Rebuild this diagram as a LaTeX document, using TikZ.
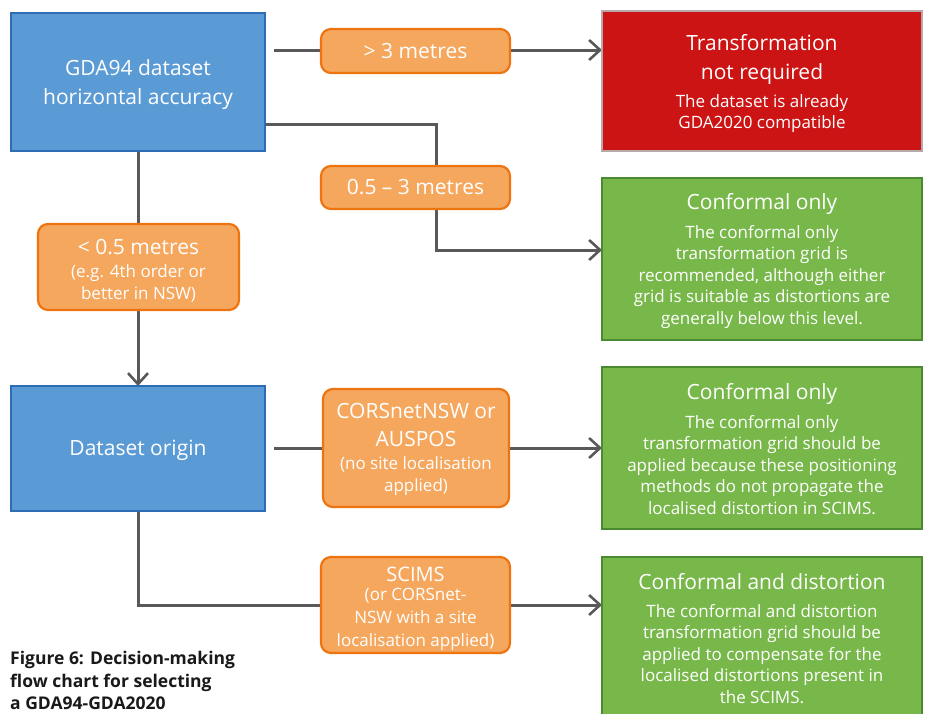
\documentclass[tikz,border=0pt]{standalone}
\usepackage{fontspec}
\setmainfont{Open Sans}
\usetikzlibrary{arrows.meta,backgrounds}
\definecolor{bluefill}{HTML}{5B9BD5}
\definecolor{blueline}{HTML}{2E6DB4}
\definecolor{orfill}{HTML}{F6A75E}
\definecolor{orline}{HTML}{EE7410}
\definecolor{redfill}{HTML}{CC1414}
\definecolor{redline}{HTML}{B8A8A8}
\definecolor{grfill}{HTML}{78B84A}
\definecolor{grline}{HTML}{4A8A30}
\definecolor{conn}{HTML}{595959}
\tikzset{
  box/.style={inner sep=0pt, outer sep=0pt, align=center, text=white, line width=2.2pt},
  bluebox/.style={box, draw=blueline, fill=bluefill, minimum width=254pt, font=\fontsize{21}{29}\selectfont},
  orbox/.style={box, draw=orline, fill=orfill, rounded corners=10pt, font=\fontsize{21}{26}\selectfont},
  redbox/.style={box, draw=redline, fill=redfill, minimum width=320pt, minimum height=140pt},
  grbox/.style={box, draw=grline, fill=grfill, minimum width=320pt, minimum height=162pt},
  big/.style={font=\fontsize{21}{29}\selectfont},
  small/.style={font=\fontsize{17}{21.5}\selectfont},
  conn/.style={draw=conn, line width=3pt},
  arr/.style={conn, -{Straight Barb[length=11pt,width=20pt,line width=2.6pt]}},
}
\newcommand{\sm}{\fontsize{17}{21}\selectfont}
\begin{document}
\begin{tikzpicture}[x=1pt,y=-1pt]
\useasboundingbox (0,0) rectangle (928,713);
% blue boxes
\node[bluebox, minimum height=138pt] (b1) at (138,82) {\rule{0pt}{22pt}GDA94 dataset\\horizontal accuracy};
\node[bluebox, minimum height=125pt] (b2) at (138,448.5) {\rule{0pt}{19pt}Dataset origin};
% result boxes
\node[redbox] (r) at (762,81) {};
\node[grbox] (g1) at (762,259) {};
\node[grbox] (g2) at (762,448) {};
\node[grbox] (g3) at (762,638) {};
\node[box, big, anchor=north] (rt) at (762,34) {Transformation\\not required};
\node[box, small, anchor=north] (rs) at ([yshift=-10pt]rt.south) {The dataset is already\\GDA2020 compatible};
\node[box, big, anchor=north] (g1t) at (762,193) {Conformal only};
\node[box, small, anchor=north] (g1s) at ([yshift=-11pt]g1t.south) {The conformal only\\transformation grid is\\recommended, although either\\grid is suitable as distortions are\\generally below this level.};
\node[box, big, anchor=north] (g2t) at (762,383) {Conformal only};
\node[box, small, anchor=north] (g2s) at ([yshift=-11pt]g2t.south) {The conformal only\\transformation grid should be\\applied because these positioning\\methods do not propagate the\\localised distortion in SCIMS.};
\node[box, big, anchor=north] (g3t) at (762,573) {Conformal and distortion};
\node[box, small, anchor=north] (g3s) at ([yshift=-15pt]g3t.south) {The conformal and distortion\\transformation grid should be\\applied to compensate for the\\localised distortions present in\\the SCIMS.};
% orange boxes
\node[orbox, minimum width=189pt, minimum height=44pt] (o1) at (415.5,51) {> 3 metres};
\node[orbox, minimum width=189pt, minimum height=43pt] (o2) at (415.5,187.5) {0.5 – 3 metres};
\node[orbox, minimum width=201pt, minimum height=86pt] (o3) at (138.5,267) {\rule{0pt}{22pt}< 0.5 metres\\[-3pt]{\sm (e.g. 4th order or}\\[-4pt]{\sm better in NSW)}};
\node[orbox, minimum width=186pt, minimum height=118pt] (o4) at (416,448) {\rule{0pt}{19pt}CORSnetNSW or\\[2pt]AUSPOS\\[-3pt]{\sm (no site localisation}\\[-4pt]{\sm applied)}};
\node[orbox, minimum width=189pt, minimum height=96pt, font=\fontsize{20}{24}\selectfont] (o5) at (415.5,605) {\rule{0pt}{23pt}SCIMS\\[-5pt]{\sm (or CORSnet-}\\[-1pt]{\sm NSW with a site}\\[-1pt]{\sm localisation applied)}};
% caption
\node[anchor=north west, align=left, inner sep=0pt, font=\bfseries\fontsize{17.5}{22.5}\selectfont, text=black!90] (cap) at (10,651) {Figure 6: Decision-making\\flow chart for selecting\\a GDA94-GDA2020};
% connectors
\coordinate (s1) at (274,50);
\coordinate (s2) at (266,124);
\coordinate (k2) at (436,124);
\coordinate (k3) at (436,250);
\coordinate (s4) at (274,448);
\coordinate (k5) at (138,605);
\begin{scope}[on background layer]
\draw[arr] (s1) -- (r.west |- s1);
\draw[arr] (s2) -- (k2) -- (k3) -- (g1.west |- k3);
\draw[arr] (b1.south) -- (b2.north);
\draw[arr] (s4) -- (g2.west |- s4);
\draw[arr] (b2.south) -- (k5) -- (g3.west |- k5);
\end{scope}
\end{tikzpicture}
\end{document}
